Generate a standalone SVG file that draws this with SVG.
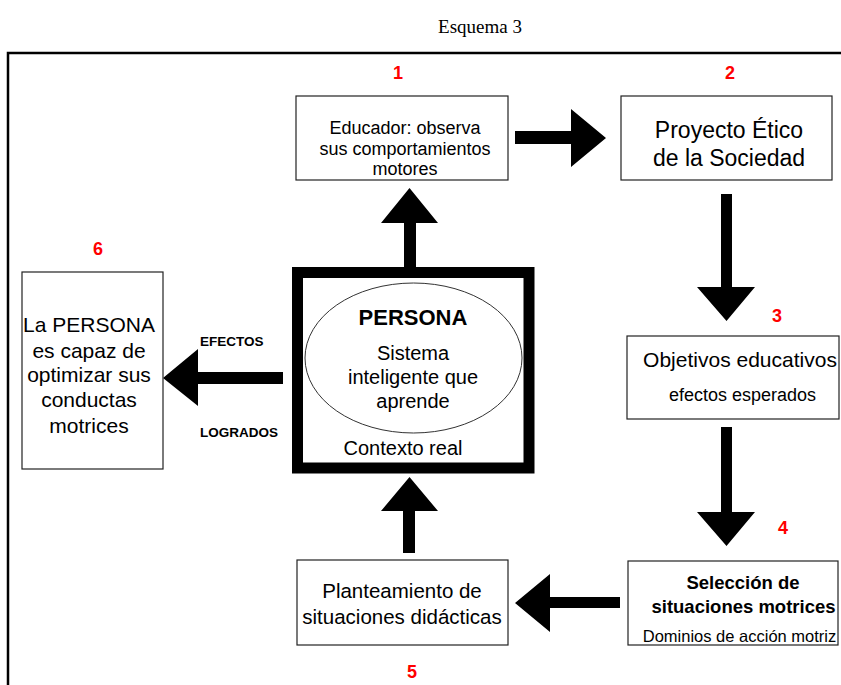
<svg xmlns="http://www.w3.org/2000/svg" width="841" height="685" viewBox="0 0 841 685">
  <style>
    .box{fill:#fff;stroke:#222;stroke-width:1.2}
    .t{font-family:"Liberation Sans",Arial,sans-serif;fill:#000;text-anchor:middle}
    .b{font-weight:bold}
    .num{font-family:"Liberation Sans",Arial,sans-serif;font-weight:bold;font-size:18px;fill:#ff0000;text-anchor:middle}
    .arrow{fill:#000}
  </style>
  <rect width="841" height="685" fill="#fff"/>

  <!-- title -->
  <text x="480" y="33" font-family="'Liberation Serif','Times New Roman',serif" font-size="19" text-anchor="middle">Esquema 3</text>

  <!-- outer frame -->
  <path d="M8 700 V53 H850" fill="none" stroke="#000" stroke-width="2.5"/>

  <!-- block arrows -->
  <g id="connectors" class="arrow">
    <path d="M404 268 V223 H381 L409.5 188 L438 223 H416 V268 Z"/>
    <path d="M515 131 H571 V109 L606 138 L571 167 V144 H515 Z"/>
    <path d="M721 194 H732 V287 H755 L726.5 321 L697 287 H721 Z"/>
    <path d="M721 427 H732 V512 H755 L726.5 546 L697 512 H721 Z"/>
    <path d="M620 597 V608 H550 V632 L515 603 L550 574 V597 Z"/>
    <path d="M403 553 V511 H381 L409.5 477 L438 511 H415 V553 Z"/>
    <path d="M283 372 V384 H198 V406 L163 378 L198 349 V372 Z"/>
  </g>

  <!-- step numbers -->
  <g id="numbers">
    <text class="num" x="398" y="79">1</text>
    <text class="num" x="730" y="79">2</text>
    <text class="num" x="777" y="322">3</text>
    <text class="num" x="783" y="534">4</text>
    <text class="num" x="412" y="678">5</text>
    <text class="num" x="98" y="255">6</text>
  </g>

  <g id="n1">
    <rect class="box" x="296" y="96" width="212" height="84"/>
    <text class="t" font-size="18" x="405" y="134">Educador: observa</text>
    <text class="t" font-size="18" x="405" y="155">sus comportamientos</text>
    <text class="t" font-size="18" x="405" y="175">motores</text>
  </g>

  <g id="n2">
    <rect class="box" x="621" y="96" width="211" height="84"/>
    <text class="t" font-size="23" x="729" y="138">Proyecto Ético</text>
    <text class="t" font-size="23" x="729" y="166">de la Sociedad</text>
  </g>

  <g id="n3">
    <rect class="box" x="627" y="336" width="212" height="83"/>
    <text class="t" font-size="21" x="740" y="367">Objetivos educativos</text>
    <text class="t" font-size="18" x="742.5" y="401">efectos esperados</text>
  </g>

  <g id="n4">
    <rect class="box" x="628" y="561" width="210" height="84"/>
    <text class="t b" font-size="18.5" x="743" y="589">Selección de</text>
    <text class="t b" font-size="18.5" x="743.5" y="613">situaciones motrices</text>
    <text class="t" font-size="16.5" x="739.5" y="642">Dominios de acción motriz</text>
  </g>

  <g id="n5">
    <rect class="box" x="297" y="560" width="211" height="85"/>
    <text class="t" font-size="20.5" x="402" y="598">Planteamiento de</text>
    <text class="t" font-size="20.5" x="402" y="624">situaciones didácticas</text>
  </g>

  <g id="n6">
    <rect class="box" x="22" y="272" width="141" height="197"/>
    <text class="t" font-size="21" x="89" y="332">La PERSONA</text>
    <text class="t" font-size="21" x="89" y="358">es capaz de</text>
    <text class="t" font-size="21" x="89" y="382">optimizar sus</text>
    <text class="t" font-size="21" x="89" y="407">conductas</text>
    <text class="t" font-size="21" x="89" y="433">motrices</text>
  </g>

  <g id="labels">
    <text class="t b" font-size="13.5" x="200" y="346" style="text-anchor:start">EFECTOS</text>
    <text class="t b" font-size="13.5" x="200" y="437" style="text-anchor:start">LOGRADOS</text>
  </g>

  <g id="persona">
    <rect x="297.5" y="272.5" width="231.5" height="195.5" fill="#fff" stroke="#000" stroke-width="11"/>
    <ellipse cx="413.5" cy="358" rx="108.5" ry="75" fill="#fff" stroke="#333" stroke-width="1"/>
    <text class="t b" font-size="22" x="413" y="325">PERSONA</text>
    <text class="t" font-size="20" x="413" y="360">Sistema</text>
    <text class="t" font-size="20" x="413" y="384">inteligente que</text>
    <text class="t" font-size="20" x="413" y="408">aprende</text>
    <text class="t" font-size="20" x="403" y="455">Contexto real</text>
  </g>
</svg>
